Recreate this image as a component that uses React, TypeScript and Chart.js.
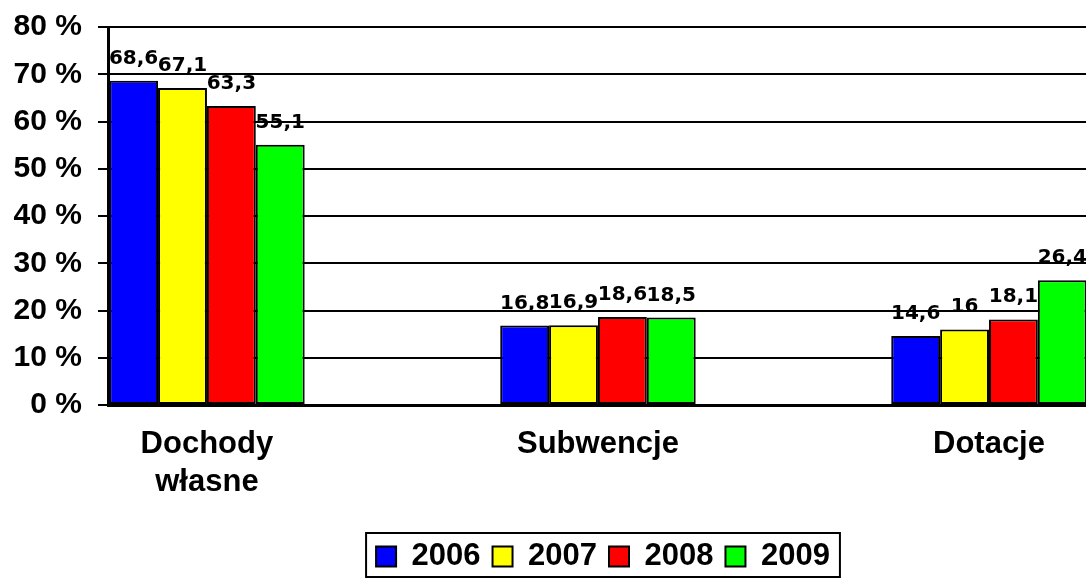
import React, { useEffect, useRef } from 'react';
import { Chart, registerables } from 'chart.js';

Chart.register(...registerables);

const categories: (string | string[])[] = [['Dochody', 'własne'], 'Subwencje', 'Dotacje'];
const years = ['2006', '2007', '2008', '2009'];
const values2006 = [68.6, 16.8, 14.6];
const values2007 = [67.1, 16.9, 16];
const values2008 = [63.3, 18.6, 18.1];
const values2009 = [55.1, 18.5, 26.4];
const seriesValues = [values2006, values2007, values2008, values2009];
const colors = ['#0000FF', '#FFFF00', '#FF0000', '#00FF00'];
const yMin = 0;
const yMax = 80;
const yStep = 10;

const labelPlugin = {
  id: 'valueLabels',
  afterDatasetsDraw(chart: any) {
    const ctx = chart.ctx;
    ctx.save();
    ctx.font = "bold 20px 'DejaVu Sans'";
    ctx.fillStyle = '#000';
    ctx.textAlign = 'center';
    ctx.textBaseline = 'alphabetic';
    chart.data.datasets.forEach((ds: any, di: number) => {
      const meta = chart.getDatasetMeta(di);
      meta.data.forEach((bar: any, i: number) => {
        const v = ds.data[i].y;
        const txt = String(v).replace('.', ',');
        ctx.fillText(txt, bar.x, bar.y - 17);
      });
    });
    ctx.restore();
  },
  afterDraw(chart: any) {
    const hb = chart.legend && chart.legend.legendHitBoxes;
    if (!hb || !hb.length) return;
    const first = hb[0];
    const last = hb[hb.length - 1];
    const ctx = chart.ctx;
    ctx.save();
    ctx.strokeStyle = '#000';
    ctx.lineWidth = 2;
    const left = first.left - 10;
    const right = last.left + last.width + 10;
    const top = first.top - 8;
    const bottom = Math.min(first.top + first.height + 5, chart.height - 2);
    ctx.strokeRect(left, top, right - left, bottom - top);
    ctx.restore();
  },
};

export default function App() {
  const ref = useRef<HTMLCanvasElement | null>(null);
  useEffect(() => {
    if (!ref.current) return;
    Chart.defaults.font.family = "'Liberation Sans', Arial, sans-serif";
    const chart = new Chart(ref.current, {
      type: 'bar',
      data: {
        datasets: years.map((yr, di) => ({
          label: yr,
          data: seriesValues[di].map((v, i) => ({ x: i, y: v })),
          backgroundColor: colors[di],
          borderColor: '#000',
          borderWidth: 2,
          borderSkipped: false,
          categoryPercentage: 0.5,
          barPercentage: 1.0,
        })),
      },
      options: {
        animation: false,
        responsive: false,
        devicePixelRatio: 1,
        layout: { padding: { top: 27, left: 0, right: 0, bottom: -3 } },
        plugins: {
          tooltip: { enabled: false },
          legend: {
            position: 'bottom',
            labels: {
              boxWidth: 20,
              boxHeight: 20,
              padding: 12,
              color: '#000',
              font: { size: 31, weight: 'bold' },
            },
          },
        },
        scales: {
          x: {
            type: 'linear',
            offset: false,
            min: -0.253,
            max: 2.555,
            grid: { display: false, drawTicks: false, offset: false },
            border: { display: true, color: '#000', width: 3 },
            afterBuildTicks: (scale: any) => {
              scale.ticks = categories.map((_, i) => ({ value: i }));
            },
            afterFit: (scale: any) => {
              scale.height = 124;
            },
            ticks: {
              padding: 20,
              color: '#000',
              font: { size: 31, weight: 'bold', lineHeight: 1.24 },
              maxRotation: 0,
              autoSkip: false,
              callback: (v: any) => categories[Math.round(Number(v))] as any,
            },
          },
          y: {
            min: yMin,
            max: yMax,
            afterFit: (scale: any) => {
              scale.width = 108;
              scale.paddingTop = 0;
              scale.paddingBottom = 0;
            },
            grid: { color: '#000', lineWidth: 2, drawTicks: true, tickLength: 10 },
            border: { display: true, color: '#000', width: 3 },
            ticks: {
              stepSize: yStep,
              padding: 16,
              color: '#000',
              font: { size: 30, weight: 'bold' },
              callback: (v: any) => v + ' %',
            },
          },
        },
      } as any,
      plugins: [labelPlugin],
    });
    return () => chart.destroy();
  }, []);
  return (
    <div style={{ position: 'absolute', left: 0, top: 0, width: 1086, height: 579, overflow: 'hidden', background: '#fff' }}>
      <canvas ref={ref} width={1206} height={579} style={{ width: 1206, height: 579, display: 'block' }} />
    </div>
  );
}
